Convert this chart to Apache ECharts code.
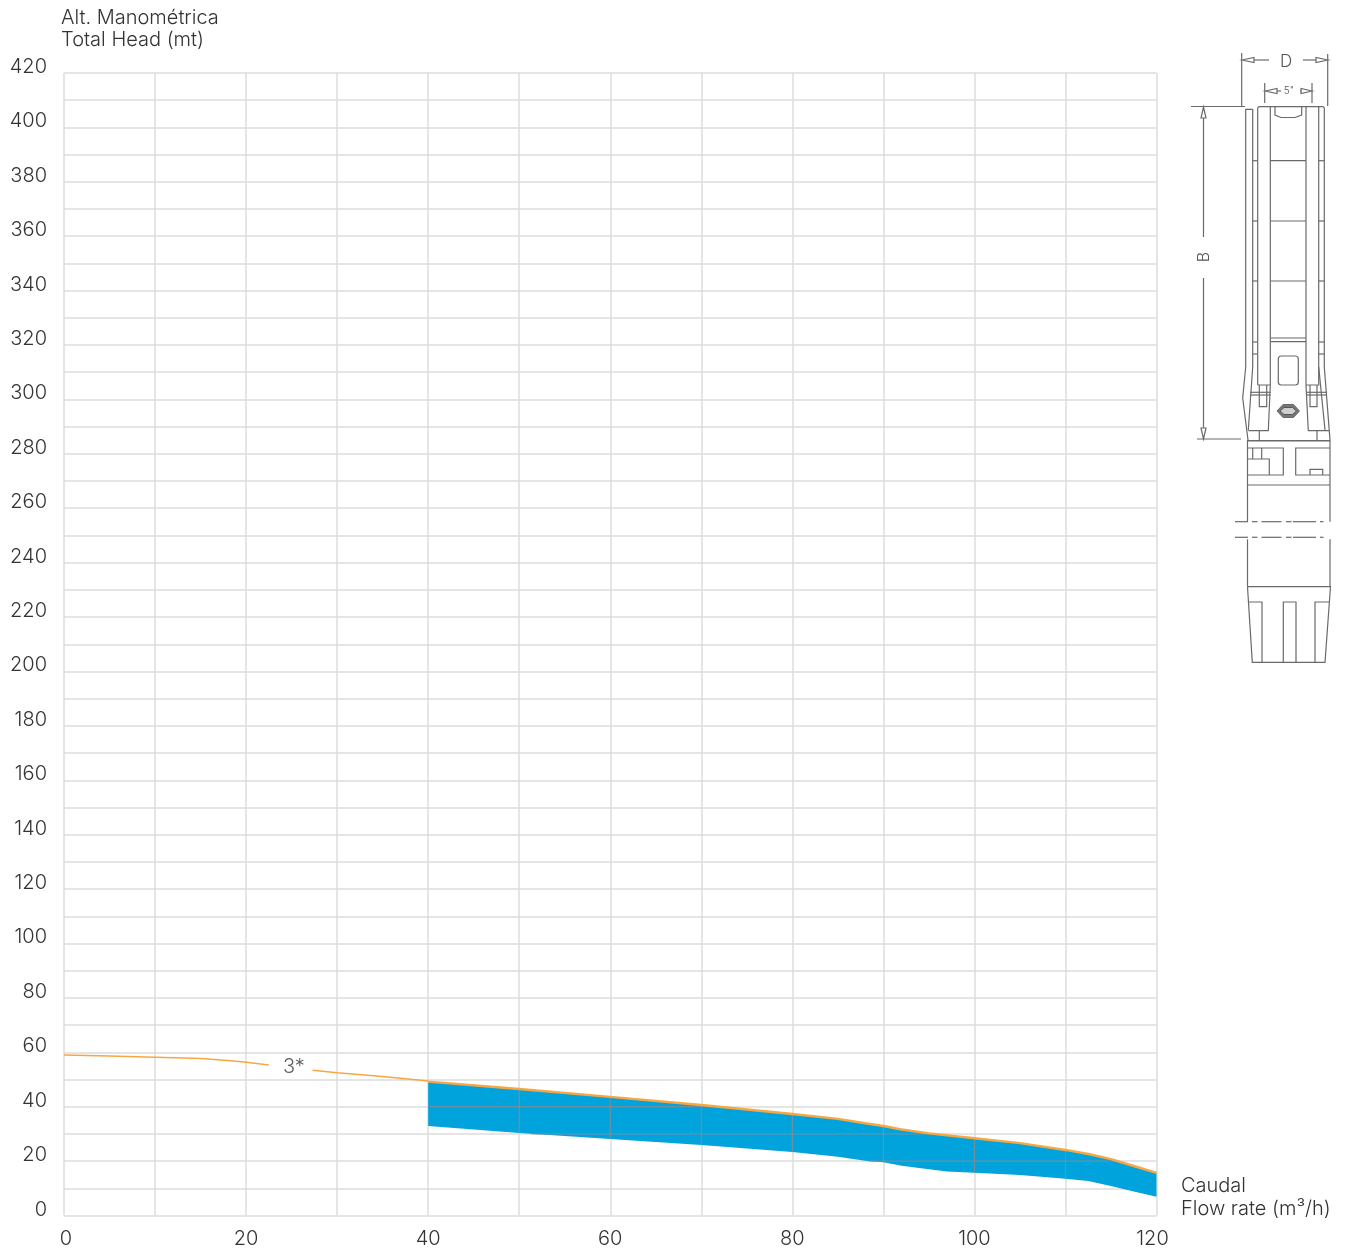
<!DOCTYPE html>
<html><head><meta charset="utf-8">
<style>html,body{margin:0;padding:0;background:#fff}#c{width:1354px;height:1250px}</style>
<script src="https://cdn.jsdelivr.net/npm/echarts@6/dist/echarts.min.js"></script>
</head><body><div id="c"></div>
<script>
const FONT = 'Inter';
const yTitle = ['Alt. Manométrica', 'Total Head (mt)'];
const xTitle = ['Caudal', 'Flow rate (m³/h)'];
const curveName = '3*';
const curveLabelAt = [25.25, 54.6];

const curveLeftX  = [0, 5, 10, 15, 18, 20, 22.5];
const curveLeftY  = [59.0, 58.6, 58.2, 57.7, 57.0, 56.3, 55.3];
const curveMidX   = [27.3, 30, 35, 40];
const curveMidY   = [53.4, 52.5, 51.1, 49.4];
const upperX = [40, 50, 60, 70, 80, 85, 88, 90, 92, 95, 100, 105, 110, 112.5, 115, 117.5, 120];
const upperY = [49.2, 46.5, 43.6, 40.6, 37.3, 35.5, 33.9, 32.9, 31.6, 30.2, 28.4, 26.6, 24.1, 22.6, 20.7, 18.2, 15.7];
const lowerX = [40, 50, 60, 70, 80, 85, 88, 90, 92, 95, 97, 100, 105, 110, 112.5, 115, 117.5, 120];
const lowerY = [32.9, 30.3, 28.1, 25.9, 23.3, 21.6, 20.1, 19.6, 18.3, 17.0, 16.2, 15.7, 14.9, 13.5, 12.7, 10.8, 8.8, 6.9];

const zip = (a, b) => a.map((v, i) => [v, b[i]]);
const upper = zip(upperX, upperY), lower = zip(lowerX, lowerY);
const interp = (pts, x) => {
  for (let i = 1; i < pts.length; i++) if (x <= pts[i][0]) {
    const t = (x - pts[i-1][0]) / (pts[i][0] - pts[i-1][0]);
    return pts[i-1][1] + t * (pts[i][1] - pts[i-1][1]);
  }
  return pts[pts.length-1][1];
};
const crossing = (pts, v) => {
  for (let i = 1; i < pts.length; i++) if (pts[i-1][1] >= v && pts[i][1] <= v) {
    const t = (pts[i-1][1] - v) / (pts[i-1][1] - pts[i][1]);
    return pts[i-1][0] + t * (pts[i][0] - pts[i-1][0]);
  }
  return null;
};
const bandVTicks = [50, 60, 70, 80, 90, 100, 110];
const bandHTicks = [40, 30, 20];

// Pump schematic (decorative drawing beside the plot)
const LINE = '#6a6a6a';
const pumpLines = [
  [[1241.7,53],[1241.7,107]], [[1327.7,54],[1327.7,106]],
  [[1252,60],[1269,60]], [[1303,60],[1318,60]],
  [[1264.7,83],[1264.7,103]], [[1312,83],[1312,103]],
  [[1275,91],[1281,91]], [[1300,91],[1304,91]],
  [[1191,106.5],[1245,106.5]], [[1203.5,115],[1203.5,237]], [[1203.5,278],[1203.5,430]], [[1197,439],[1241,439]],
  [[1252.7,109.3],[1245.7,109.3],[1245.7,367],[1242.7,398],[1248,440]],
  [[1252.7,109],[1252.7,367],[1248.3,430]],
  [[1257.7,385],[1257.7,108],[1259,106.7],[1270.3,106.7],[1270.3,385],[1257.7,385]],
  [[1306,385],[1306,106.7],[1318.7,106.7],[1318.7,385],[1306,385]],
  [[1318.7,106.7],[1323,106.7],[1324.3,108],[1324.3,367],[1330,440]],
  [[1318.7,367],[1325,430]],
  [[1270.3,106.7],[1306,106.7]],
  [[1275,107],[1275,115],[1281,117.5],[1295,117.5],[1301.7,115],[1301.7,107]],
  [[1252.7,160.7],[1257.7,160.7]], [[1270.3,160.7],[1306,160.7]], [[1318.7,160.7],[1324.3,160.7]],
  [[1252.7,221],[1257.7,221]], [[1270.3,221],[1306,221]], [[1318.7,221],[1324.3,221]],
  [[1252.7,281],[1257.7,281]], [[1270.3,281],[1306,281]], [[1318.7,281],[1324.3,281]],
  [[1270.3,338],[1306,338]], [[1270.3,341.7],[1306,341.7]],
  [[1252.7,342],[1257.7,342]], [[1252.7,354],[1257.7,354]], [[1318.7,342],[1324.3,342]], [[1318.7,354],[1324.3,354]],
  [[1259.3,385],[1259.3,406.7],[1266.7,406.7],[1266.7,385]],
  [[1310,385],[1310,406.7],[1317,406.7],[1317,385]],
  [[1250,392.3],[1270.7,392.3]], [[1250,395],[1270.7,395]], [[1306,392.3],[1327,392.3]], [[1306,395],[1327,395]],
  [[1270.3,385],[1268.3,430.7],[1248.3,430.7]], [[1306,385],[1308.3,430.7],[1329,430.7]],
  [[1259.3,430.7],[1259.3,440]], [[1317,430.7],[1317,440]],
  [[1247.5,440.5],[1330,440.5]], [[1247.5,441],[1330,441]],
  [[1247.5,440],[1247.5,521.7]], [[1330,440],[1330,521.7]],
  [[1247.5,448],[1283.3,448],[1283.3,475],[1247.5,475]],
  [[1330,448],[1295.7,448],[1295.7,475],[1330,475]],
  [[1252.7,448],[1252.7,459]], [[1261.7,448],[1261.7,459]],
  [[1247.5,459],[1269.3,459],[1269.3,475]],
  [[1310,475],[1310,469.3],[1322.7,469.3],[1322.7,475]],
  [[1247.5,485],[1330,485]],
  [[1235,521.7],[1248,521.7]], [[1252,521.7],[1257.5,521.7]], [[1261.5,521.7],[1281.5,521.7]], [[1286,521.7],[1291.5,521.7]], [[1293,521.7],[1316,521.7]], [[1320,521.7],[1323.5,521.7]],
  [[1235,537.3],[1248,537.3]], [[1252,537.3],[1257.5,537.3]], [[1261.5,537.3],[1281.5,537.3]], [[1286,537.3],[1291.5,537.3]], [[1293,537.3],[1316,537.3]], [[1320,537.3],[1323.5,537.3]],
  [[1247.5,539.3],[1247.5,586.7]], [[1330,539.3],[1330,586.7]],
  [[1247.5,586.7],[1330.5,586.7],[1325,662.3],[1252.3,662.3],[1247.5,586.7]],
  [[1249,602],[1262,602],[1262,662.3]],
  [[1283.3,662.3],[1283.3,602],[1296,602],[1296,662.3]],
  [[1329,602],[1315,602],[1315,662.3]]
];
const pumpArrows = [
  [[1242,60],[1254,57.5],[1254,62.5]], [[1328,60],[1316,57.5],[1316,62.5]],
  [[1265,91],[1277,88.5],[1277,93.5]], [[1312,91],[1301,88.5],[1301,93.5]],
  [[1203.5,107],[1201,118],[1206,118]], [[1203.5,439],[1201,428],[1206,428]]
];
const nutOuter = [[1277,411],[1283,404.5],[1293.5,404.5],[1299.5,411],[1293.5,417.5],[1283,417.5]];
const nutInner = [[1280,411],[1284,407.5],[1292.5,407.5],[1296.5,411],[1292.5,414.5],[1284,414.5]];

const text = (x, y, t, size, extra) => ({
  type: 'text', x, y, silent: true,
  style: Object.assign({ text: t, font: '300 ' + size + 'px ' + FONT, fill: '#333', textVerticalAlign: 'middle', textAlign: 'left' }, extra || {})
});

const graphic = [
  text(61, 18, yTitle[0], 20), text(61, 40, yTitle[1], 20),
  text(1181, 1186, xTitle[0], 20), text(1181, 1209, xTitle[1], 20),
  text(1286, 62, 'D', 17, { textAlign: 'center', fill: '#555' }),
  text(1289, 91, '5"', 10, { textAlign: 'center', fill: '#555' }),
  { type: 'text', x: 1204, y: 257, rotation: Math.PI / 2, silent: true,
    style: { text: 'B', font: '300 16px ' + FONT, fill: '#555', textAlign: 'center', textVerticalAlign: 'middle' } },
  { type: 'rect', silent: true, shape: { x: 1278.3, y: 356, width: 20, height: 29, r: 3 }, style: { fill: 'none', stroke: LINE, lineWidth: 1.2 } },
  ...pumpLines.map(p => ({ type: 'polyline', silent: true, shape: { points: p }, style: { fill: 'none', stroke: LINE, lineWidth: 1.2 } })),
  ...pumpArrows.map(p => ({ type: 'polygon', silent: true, shape: { points: p }, style: { fill: '#fff', stroke: LINE, lineWidth: 1.2 } })),
  { type: 'polygon', silent: true, shape: { points: nutOuter }, style: { fill: '#777', stroke: LINE, lineWidth: 1 } },
  { type: 'polygon', silent: true, shape: { points: nutInner }, style: { fill: '#cfcfcf', stroke: '#555', lineWidth: 1 } }
];

const axisCommon = {
  type: 'value',
  axisLine: { show: false }, axisTick: { show: false },
  splitLine: { show: true, lineStyle: { color: '#dcdcdc', width: 1.5 } }
};
const chart = echarts.init(document.getElementById('c'), null, { renderer: 'canvas' });
const ORANGE = '#f6a743';
const thin = d => ({ type: 'line', data: d, symbol: 'none', silent: true, z: 5, lineStyle: { color: ORANGE, width: 1.5 } });
const labelFont = { fontFamily: FONT, fontWeight: 300, fontSize: 20, color: '#333' };
chart.setOption({
  animation: false,
  grid: { left: 64, right: 197.5, top: 73, bottom: 34.5 },
  xAxis: Object.assign({}, axisCommon, { min: 0, max: 120, interval: 10,
    axisLabel: Object.assign({ margin: 13 }, labelFont, {
      formatter: v => v % 20 !== 0 ? '' : v === 0 ? '{a|0}' : v === 120 ? '{b|120}' : String(v),
      rich: { a: Object.assign({ padding: [0, 0, 0, 4] }, labelFont), b: Object.assign({ padding: [0, 8, 0, 0] }, labelFont) } }) }),
  yAxis: Object.assign({}, axisCommon, { min: 0, max: 420, interval: 10,
    axisLabel: Object.assign({ margin: 17, verticalAlign: 'bottom', lineHeight: 12 }, labelFont, { formatter: v => v % 20 === 0 ? String(v) : '' }) }),
  graphic,
  series: [
    { type: 'custom', silent: true, z: 3, clip: false, data: [[40, 40]],
      renderItem: (p, api) => {
        const poly = upper.concat(lower.slice().reverse()).map(q => api.coord(q));
        const children = [{ type: 'polygon', shape: { points: poly }, style: { fill: '#00a3dc' } }];
        const gl = (a, b) => {
          const A = api.coord(a), B = api.coord(b);
          children.push({ type: 'line', shape: { x1: A[0], y1: A[1], x2: B[0], y2: B[1] }, style: { stroke: '#848d92', lineWidth: 1 } });
        };
        bandVTicks.forEach(x => gl([x, interp(lower, x)], [x, interp(upper, x)]));
        bandHTicks.forEach(v => {
          const start = crossing(lower, v);
          gl([start === null ? 40 : start, v], [crossing(upper, v), v]);
        });
        return { type: 'group', children };
      } },
    thin(zip(curveLeftX, curveLeftY)),
    thin(zip(curveMidX, curveMidY)),
    { type: 'line', data: upper, symbol: 'none', silent: true, z: 6, lineStyle: { color: ORANGE, width: 2.4 } },
    { type: 'scatter', data: [curveLabelAt], symbolSize: 0, silent: true, z: 7,
      label: Object.assign({ show: true, position: 'inside', formatter: curveName }, labelFont) }
  ]
});
</script></body></html>
